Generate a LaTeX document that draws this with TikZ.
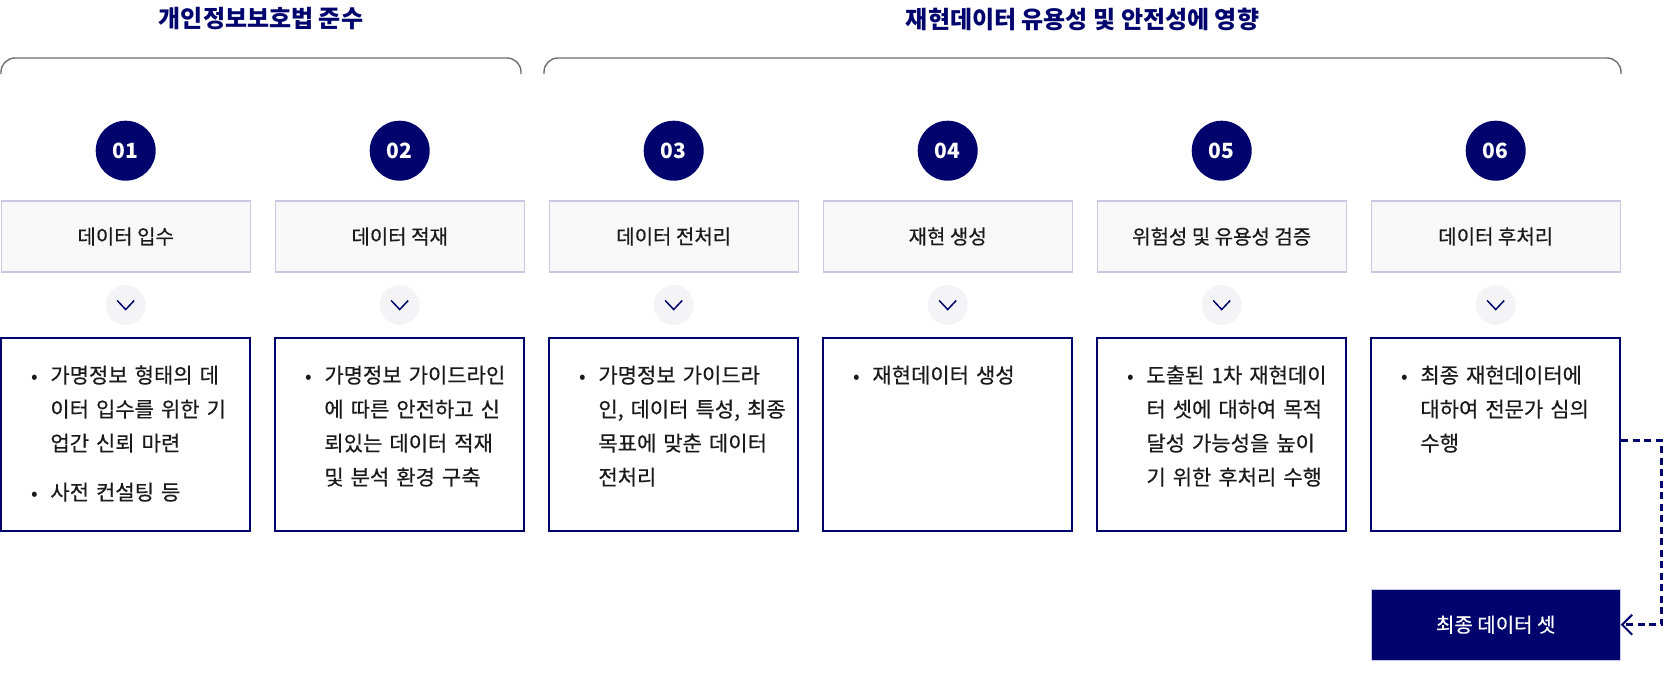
\documentclass[tikz,border=0pt]{standalone}
\usepackage{fontspec}
\setmainfont{Noto Sans CJK KR}
\newfontfamily\medfont[FakeBold=0.5]{Noto Sans CJK KR}
\usetikzlibrary{arrows.meta}
\definecolor{navy}{RGB}{2,4,110}
\definecolor{txt}{RGB}{26,26,26}
\definecolor{hfill}{RGB}{248,248,248}
\definecolor{hline}{RGB}{200,200,226}
\definecolor{cfill}{RGB}{244,244,247}
\definecolor{brk}{RGB}{110,110,110}
\tikzset{
  ttl/.style={font=\bfseries\fontsize{24}{28}\selectfont, text=navy, inner sep=0pt},
  brkline/.style={draw=brk, line width=1.4pt, rounded corners=14pt},
  num/.style={circle, fill=navy, minimum size=60pt, inner sep=0pt, text=white, font=\bfseries\fontsize{21}{24}\selectfont},
  hbox/.style={draw=hline, fill=hfill, line width=1.2pt, minimum width=249pt, minimum height=71pt, inner sep=0pt, text=txt, font=\medfont\fontsize{20}{24}\selectfont},
  chev/.style={circle, fill=cfill, minimum size=40pt, inner sep=0pt},
  chevline/.style={draw=navy, line width=1.5pt},
  cbox/.style={draw=navy, line width=2pt, minimum width=249pt, minimum height=193pt, inner sep=0pt},
  body/.style={anchor=base west, inner sep=0pt, text width=220pt, align=left, text=txt, font=\medfont\fontsize{21}{34}\selectfont},
  bul/.style={anchor=base, inner sep=0pt, text=txt, font=\fontsize{19.5}{34}\selectfont},
  fin/.style={fill=navy, draw=hline, line width=1pt, minimum width=249pt, minimum height=71pt, inner sep=0pt, text=white, font=\medfont\fontsize{20}{24}\selectfont},
  conn/.style={draw=navy, line width=2.6pt, dash pattern=on 7pt off 4.5pt, -{Straight Barb[length=10pt,width=20pt,line width=2pt]}}
}
\begin{document}
\begin{tikzpicture}[x=1pt,y=-1pt]
\useasboundingbox (0,0) rectangle (1664,696);
% titles and brackets
\node[ttl] (t1) at (261,19) {개인정보보호법 준수};
\node[ttl] (t2) at (1082.5,19) {재현데이터 유용성 및 안전성에 영향};
\draw[brkline] (1,74) -- (1,58) -- (521,58) -- (521,74);
\draw[brkline] (544,74) -- (544,58) -- (1621,58) -- (1621,74);
% columns
\foreach \i/\cx/\lab in {1/125.7/데이터 입수, 2/399.7/데이터 적재, 3/673.7/데이터 전처리, 4/947.7/재현 생성, 5/1221.7/위험성 및 유용성 검증, 6/1495.7/데이터 후처리}{
  \node[num] (n\i) at (\cx,150.7) {0\i};
  \node[hbox] (h\i) at (\cx,236.5) {\lab};
  \node[chev] (v\i) at (\cx,305) {};
  \draw[chevline] ([xshift=-8.5pt,yshift=4.5pt]v\i.center) -- ([yshift=-4.5pt]v\i.center) -- ([xshift=8.5pt,yshift=4.5pt]v\i.center);
  \node[cbox] (c\i) at (\cx,434.1) {};
  \node[bul] (u\i) at (\cx-90.5,383) {•};
}
\node[body] (p1) at (50.2,383) {가명정보 형태의 데\\이터 입수를 위한 기\\업간 신뢰 마련};
\node[bul] (u1b) at (35.2,500) {•};
\node[body] (p1b) at (50.2,500) {사전 컨설팅 등};
\node[body] (p2) at (324.2,383) {가명정보 가이드라인\\에 따른 안전하고 신\\뢰있는 데이터 적재\\및 분석 환경 구축};
\node[body] (p3) at (598.2,383) {가명정보 가이드라\\인, 데이터 특성, 최종\\목표에 맞춘 데이터\\전처리};
\node[body] (p4) at (872.2,383) {재현데이터 생성};
\node[body] (p5) at (1146.2,383) {도출된 1차 재현데이\\터 셋에 대하여 목적\\달성 가능성을 높이\\기 위한 후처리 수행};
\node[body] (p6) at (1420.2,383) {최종 재현데이터에\\대하여 전문가 심의\\수행};
% final box
\node[fin] (f) at (1495.7,624.7) {최종 데이터 셋};
\coordinate (r) at (1661.7,624.7);
\draw[conn] ([yshift=-6.6pt]c6.east) -| (r) -- (f.east);
\end{tikzpicture}
\end{document}
